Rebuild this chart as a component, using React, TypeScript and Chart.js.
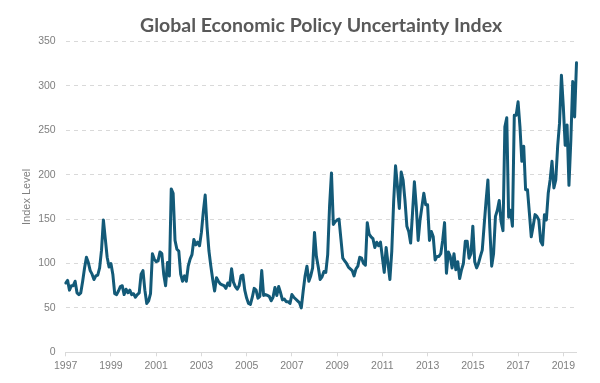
import React, { useEffect, useRef } from 'react';
import { Chart, registerables } from 'chart.js';

Chart.register(...registerables);

// Monthly Global Economic Policy Uncertainty index, Jan 1997 – Aug 2019
const y1997 = [78, 81, 70, 75, 75, 80, 67, 65, 67, 80, 95, 107];
const y1998 = [101, 92, 88, 82, 86, 87, 95, 115, 149, 128, 107, 96];
const y1999 = [100, 88, 66, 65, 69, 74, 75, 65, 71, 67, 70, 65];
const y2000 = [66, 62, 65, 67, 88, 92, 70, 55, 58, 66, 111, 105];
const y2001 = [102, 103, 113, 111, 88, 75, 101, 86, 184, 179, 126, 116];
const y2002 = [114, 88, 80, 86, 80, 97, 105, 110, 127, 121, 124, 120];
const y2003 = [135, 158, 177, 141, 114, 97, 82, 69, 84, 80, 77, 76];
const y2004 = [75, 72, 78, 75, 94, 79, 74, 71, 75, 86, 87, 70];
const y2005 = [61, 55, 54, 62, 72, 70, 61, 63, 92, 64, 65, 64];
const y2006 = [63, 58, 62, 73, 64, 74, 67, 59, 60, 57, 57, 55];
const y2007 = [65, 62, 60, 58, 56, 50, 69, 86, 97, 80, 86, 95];
const y2008 = [135, 108, 96, 82, 85, 91, 90, 110, 165, 202, 144, 147];
const y2009 = [149, 150, 128, 106, 103, 100, 96, 94, 92, 86, 94, 97];
const y2010 = [107, 106, 100, 98, 146, 133, 130, 128, 118, 124, 120, 124];
const y2011 = [107, 90, 118, 100, 82, 114, 170, 210, 187, 162, 203, 194];
const y2012 = [171, 142, 136, 123, 157, 192, 164, 126, 149, 164, 179, 166];
const y2013 = [166, 126, 136, 130, 104, 108, 108, 111, 126, 146, 89, 113];
const y2014 = [108, 95, 111, 93, 102, 83, 93, 100, 125, 125, 106, 111];
const y2015 = [142, 102, 95, 100, 108, 115, 143, 170, 194, 140, 97, 111];
const y2016 = [153, 160, 171, 147, 137, 254, 264, 152, 160, 142, 267, 267];
const y2017 = [282, 254, 215, 232, 183, 183, 157, 130, 142, 155, 153, 149];
const y2018 = [125, 121, 155, 149, 179, 194, 215, 185, 194, 232, 258, 312];
const y2019 = [277, 233, 256, 188, 239, 305, 265, 326];

const gepu = [
  ...y1997, ...y1998, ...y1999, ...y2000, ...y2001, ...y2002, ...y2003, ...y2004,
  ...y2005, ...y2006, ...y2007, ...y2008, ...y2009, ...y2010, ...y2011, ...y2012,
  ...y2013, ...y2014, ...y2015, ...y2016, ...y2017, ...y2018, ...y2019,
];

const startYear = 1997;
const yearTickLabels = ['1997', '1999', '2001', '2003', '2005', '2007', '2009', '2011', '2013', '2015', '2017', '2019'];
const monthLabels = gepu.map((_, i) => `${startYear + Math.floor(i / 12)}-${String((i % 12) + 1).padStart(2, '0')}`);

const titleText = 'Global Economic Policy Uncertainty Index';
const yAxisTitle = 'Index Level';

export default function App() {
  const ref = useRef<HTMLCanvasElement | null>(null);

  useEffect(() => {
    if (!ref.current) return;
    const chart = new Chart(ref.current, {
      type: 'line',
      data: {
        labels: monthLabels,
        datasets: [
          {
            data: gepu,
            borderColor: '#135a78',
            borderWidth: 3,
            pointRadius: 0,
            tension: 0,
            borderJoinStyle: 'round',
            borderCapStyle: 'round',
            fill: false,
          },
        ],
      },
      options: {
        responsive: false,
        animation: false,
        layout: { padding: { left: 0, right: 23.5, top: 0, bottom: 0 } },
        plugins: {
          legend: { display: false },
          tooltip: { enabled: false },
          title: {
            display: true,
            text: titleText,
            fullSize: false,
            color: '#595959',
            font: { family: 'Lato', size: 19.5, weight: 'bold', lineHeight: 1.1 },
            padding: { top: 15, bottom: 5 },
          },
        },
        scales: {
          x: {
            type: 'category',
            offset: false,
            grid: {
              display: true,
              drawOnChartArea: false,
              drawTicks: true,
              tickLength: 4,
              color: '#d9d9d9',
            },
            border: { display: true, color: '#d9d9d9', width: 1 },
            ticks: {
              autoSkip: false,
              maxRotation: 0,
              minRotation: 0,
              padding: 4,
              color: '#7f7f7f',
              font: { family: 'Liberation Sans', size: 10.5 },
              callback: (_v: any, index: number) => {
                const lab = monthLabels[index];
                if (lab && lab.endsWith('-01') && yearTickLabels.includes(lab.slice(0, 4))) return lab.slice(0, 4);
                return null;
              },
            },
            afterFit: (s: any) => {
              s.height = 30.7;
            },
          },
          y: {
            min: 0,
            max: 350,
            ticks: {
              stepSize: 50,
              padding: 10,
              color: '#7f7f7f',
              font: { family: 'Liberation Sans', size: 10.5 },
            },
            grid: {
              color: '#d9d9d9',
              drawTicks: false,
              lineWidth: 1,
            },
            border: { display: false, dash: [4, 4] },
            title: {
              display: true,
              text: yAxisTitle,
              color: '#7f7f7f',
              font: { family: 'Liberation Sans', size: 11 },
              padding: { top: 20, bottom: 0 },
            },
            afterFit: (s: any) => {
              s.width = 65.7;
            },
          },
        },
      },
    } as any);
    return () => chart.destroy();
  }, []);

  return (
    <div style={{ position: 'absolute', left: 0, top: 0, width: 600, height: 383 }}>
      <canvas ref={ref} width={600} height={383} style={{ display: 'block' }} />
    </div>
  );
}
